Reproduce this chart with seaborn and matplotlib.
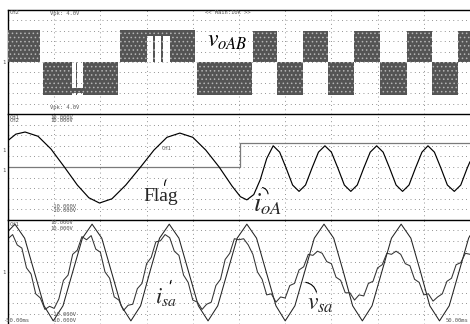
import numpy as np
import matplotlib
matplotlib.use("Agg")
import matplotlib.pyplot as plt
import seaborn as sns

# scope capture, time in ms (10 ms/div), amplitude in divisions

# v_oAB: pwm blocks as step segments (start time, upper and lower level)
voab_t = [-50.0, -43.1, -42.4, -36.2, -35.3, -35.0, -33.8, -26.2, -25.8, -20.0,
          -18.6, -18.2, -16.8, -16.4, -15.0, -9.5, -9.1, 2.8, 3.0, 8.2,
          13.9, 19.3, 24.9, 30.5, 36.4, 41.8, 47.4]
voab_hi = [3.1, 0.0, -3.2, -3.0, -3.2, -3.0, -3.2, 0.0, 3.1, 3.1,
           3.1, 3.1, 3.1, 3.1, 3.1, 0.0, -3.2, 0.0, 3.0, -3.2,
           3.0, -3.2, 3.0, -3.2, 3.0, -3.2, 3.0]
voab_lo = [0.0, 0.0, 0.0, -2.5, 0.0, -2.5, 0.0, 0.0, 0.0, 2.5,
           0.0, 2.5, 0.0, 2.5, 0.0, 0.0, 0.0, 0.0, 0.0, 0.0,
           0.0, 0.0, 0.0, 0.0, 0.0, 0.0, 0.0]

# i_oA
ioa_t = [-50.0, -48.3, -46.3, -43.5, -40.7, -37.8, -35.0, -32.5, -30.2, -27.5,
         -24.5, -21.3, -18.4, -15.6, -12.8, -10.0, -7.2, -4.3, -1.5, 0.3,
         1.7, 3.2, 4.6, 6.0, 7.4, 8.8, 10.2, 11.6, 13.0, 14.4,
         15.8, 17.2, 18.6, 20.0, 21.4, 22.8, 24.2, 25.6, 27.0, 28.4,
         29.8, 31.2, 32.6, 34.0, 35.4, 36.8, 38.2, 39.6, 40.9, 42.3,
         43.7, 45.1, 46.6, 48.0, 49.4, 50.0]
ioa_v = [2.5, 3.1, 3.3, 2.9, 1.7, 0.0, -1.7, -2.9, -3.4, -3.0,
         -1.7, 0.0, 1.6, 2.8, 3.2, 2.8, 1.6, 0.0, -1.8, -2.8,
         -3.1, -2.6, -1.2, 0.8, 2.0, 1.4, -0.1, -1.7, -2.3, -1.7,
         -0.1, 1.4, 2.0, 1.4, -0.1, -1.7, -2.3, -1.7, -0.1, 1.4,
         2.0, 1.4, -0.1, -1.7, -2.3, -1.7, -0.1, 1.4, 2.0, 1.4,
         -0.1, -1.7, -2.3, -1.7, -0.1, 0.5]

# Flag
flag_t = [-50.0, 0.2, 50.0]
flag_v = [0.0, 2.3, 2.3]

# v_sa
vsa_t = [-50.0, -48.5, -46.4, -44.3, -42.2, -40.2, -38.1, -36.0, -33.9, -31.8,
         -29.7, -27.6, -25.5, -23.4, -21.3, -19.3, -17.2, -15.1, -13.0, -10.9,
         -8.8, -6.7, -4.6, -2.5, -0.4, 1.7, 3.8, 5.9, 8.0, 10.0,
         12.1, 14.2, 16.3, 18.4, 20.5, 22.6, 24.6, 26.7, 28.8, 30.9,
         33.0, 35.1, 37.2, 39.3, 41.3, 43.4, 45.5, 47.6, 49.7, 50.0]
vsa_v = [3.9, 4.6, 3.25, 0.0, -3.25, -4.7, -3.25, 0.0, 3.25, 4.6,
         3.25, 0.0, -3.25, -4.7, -3.25, 0.0, 3.25, 4.6, 3.25, 0.0,
         -3.25, -4.7, -3.25, 0.0, 3.25, 4.6, 3.25, 0.0, -3.25, -4.7,
         -3.25, 0.0, 3.25, 4.6, 3.25, 0.0, -3.25, -4.7, -3.25, 0.0,
         3.25, 4.6, 3.25, 0.0, -3.25, -4.7, -3.25, 0.0, 3.25, 3.5]

# i_sa, one sample per ms
isa_t = list(range(-50, 51))
isa_v = [3.2, 3.6, 2.6, 2.3, 0.4, -0.2, -2.1, -2.5, -3.6, -3.3,
         -3.5, -2.6, -0.8, -0.3, 1.7, 2.1, 3.4, 3.1, 3.5, 2.2,
         1.9, 0.0, -0.6, -2.4, -2.7, -3.7, -3.2, -3.1, -1.6, -1.1,
         0.8, 1.4, 2.9, 3.0, 3.6, 3.3, 2.0, 1.6, -0.3, -1.0,
         -2.7, -2.9, -3.6, -3.1, -2.9, -1.3, -0.7, 1.2, 1.8, 3.2,
         3.1,
         3.2, 2.6, 1.7, 0.0, -0.7, -2.2, -2.1, -2.9, -2.4, -2.5,
         -1.3, -1.1, 0.2, 0.5, 1.7, 1.6, 2.0, 1.8, 1.0, 0.8,
         -0.5, -0.8, -2.0, -2.0, -2.7, -2.2, -2.3, -1.1, -0.9, 0.4,
         0.7, 1.8, 1.7, 2.0, 1.7, 0.8, 0.6, -0.7, -1.0, -2.2,
         -2.1, -2.8, -2.4, -2.1, -0.9, -0.6, 0.7, 0.9, 1.8, 1.7]

sns.set_theme(style="white")
plt.rcParams["font.family"] = ["DejaVu Sans"]
plt.rcParams["mathtext.fontset"] = "stix"
plt.rcParams["hatch.linewidth"] = 0.6

W, H = 470, 324
fig = plt.figure(figsize=(W / 100, H / 100), dpi=100)
fig.patch.set_facecolor("white")


def panel(top, bottom):
    ax = fig.add_axes([8 / W, 1 - bottom / H, 462 / W, (bottom - top) / H])
    ax.set_xlim(-50, 50)
    ax.set_ylim(-5, 5)
    ax.set_xticks(np.arange(-50, 51, 10))
    ax.set_yticks(np.arange(-5, 6, 1))
    ax.grid(True, color="#7a7a7a", lw=0.7, ls=(0, (0.8, 3.6)))
    ax.tick_params(length=0, labelbottom=False, labelleft=False)
    for side in ("right", "bottom"):
        ax.spines[side].set_visible(False)
    for side in ("top", "left"):
        ax.spines[side].set_color("black")
        ax.spines[side].set_linewidth(1.0)
    ax.set_facecolor("white")
    return ax


ax1 = panel(10, 114)
ax2 = panel(114, 220)
ax3 = panel(220, 324)

# top: pwm voltage blocks
edges = voab_t + [50.0]
hi = voab_hi + [voab_hi[-1]]
lo = voab_lo + [voab_lo[-1]]
ax1.fill_between(edges, lo, hi, step="post", facecolor="#545454",
                 edgecolor="#b4b4b4", hatch="....", lw=0, zorder=3)
ax1.text(-7.0, 2.1, r"$v_{oAB}$", fontsize=17, ha="left", va="center", color="black")

# middle: output current and flag
sns.lineplot(x=flag_t, y=flag_v, ax=ax2, color="#7a7a7a", lw=0.9,
             drawstyle="steps-post", estimator=None, sort=False)
sns.lineplot(x=ioa_t, y=ioa_v, ax=ax2, color="black", lw=0.85,
             estimator=None, sort=False)
ax2.text(-20.6, -3.2, "Flag", fontsize=14, family="Liberation Serif",
         ha="left", va="baseline")
ax2.annotate("", xy=(-15.4, -1.0), xytext=(-16.0, -2.0),
             arrowprops=dict(arrowstyle="-", lw=0.8, color="black",
                             connectionstyle="arc3,rad=-0.3"))
ax2.text(3.0, -4.2, r"$i_{oA}$", fontsize=19, ha="left", va="baseline")
ax2.annotate("", xy=(4.5, -1.9), xytext=(6.3, -2.8),
             arrowprops=dict(arrowstyle="-", lw=0.8, color="black",
                             connectionstyle="arc3,rad=0.5"))

# bottom: source voltage and current
sns.lineplot(x=vsa_t, y=vsa_v, ax=ax3, color="#222222", lw=0.75,
             estimator=None, sort=False)
sns.lineplot(x=isa_t, y=isa_v, ax=ax3, color="#333333", lw=0.75,
             estimator=None, sort=False)
ax3.text(-18.2, -3.0, r"$i_{sa}$", fontsize=16, ha="left", va="baseline")
ax3.annotate("", xy=(-14.3, -0.6), xytext=(-14.8, -1.4),
             arrowprops=dict(arrowstyle="-", lw=0.8, color="black",
                             connectionstyle="arc3,rad=-0.3"))
ax3.text(14.7, -3.65, r"$v_{sa}$", fontsize=17, ha="left", va="baseline")
ax3.annotate("", xy=(13.85, -0.96), xytext=(16.9, -2.2),
             arrowprops=dict(arrowstyle="-", lw=0.8, color="black",
                             connectionstyle="arc3,rad=0.4"))

for ax in (ax1, ax2, ax3):
    ax.set_xlabel("")
    ax.set_ylabel("")

# small scope readouts
small = dict(fontsize=4, color="#555555", family="DejaVu Sans Mono")


def readout(x, y, s, ha="left"):
    fig.text(x / W, 1 - y / H, s, ha=ha, va="center", **small)


readout(228, 13, "<< Main:10k >>", ha="center")
readout(10, 13, "CH2")
readout(50, 14, "Vpk: 4.0V")
readout(50, 108, "Vpk: 4.0V")
readout(10, 117, "CH1")
readout(10, 121, "CH2")
readout(50, 117, "10.000V")
readout(50, 121, "10.000V")
readout(162, 148, "CH1")
readout(50, 206, "-10.000V")
readout(50, 211, "-10.000V")
readout(10, 224, "CH1")
readout(50, 223, "10.000V")
readout(50, 228, "10.000V")
readout(50, 315, "-10.000V")
readout(50, 320, "-10.000V")
readout(3, 320, "-50.00ms")
readout(468, 320, "50.00ms", ha="right")
readout(2, 150, "1")
readout(2, 170, "1")
readout(2, 272, "1")
readout(2, 62, "1")

fig.savefig("out.png", dpi=100)
